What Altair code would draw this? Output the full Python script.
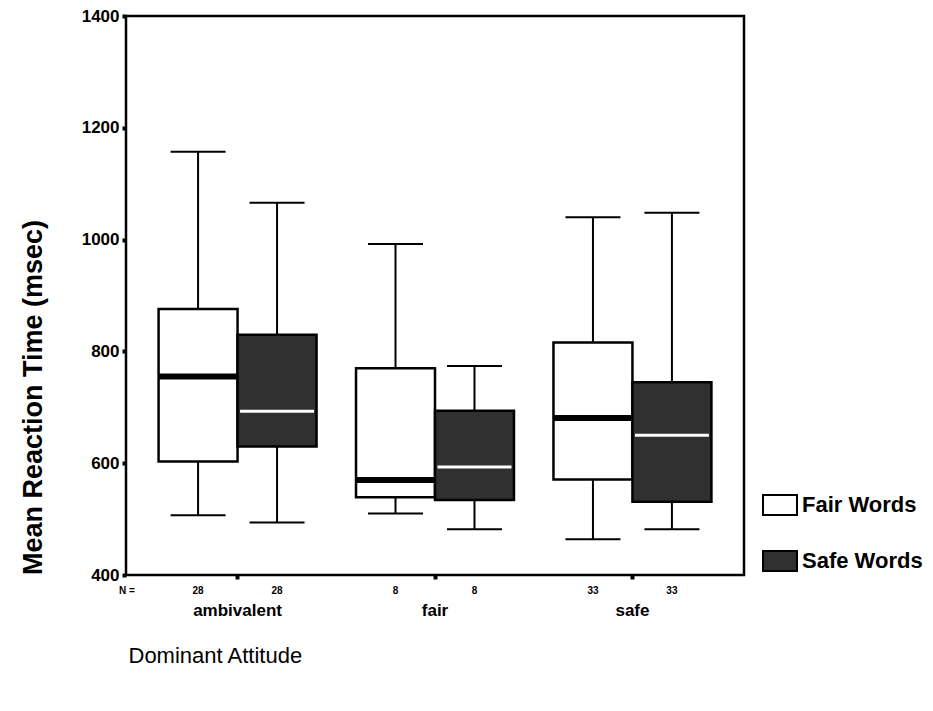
import altair as alt
import pandas as pd

attitudes = ["ambivalent", "ambivalent", "fair", "fair", "safe", "safe"]
words = ["Fair Words", "Safe Words"] * 3
low = [507, 494, 510, 482, 464, 482]
q1 = [603, 630, 539, 534, 571, 531]
median = [755, 693, 570, 593, 681, 650]
q3 = [876, 830, 770, 694, 816, 745]
high = [1157, 1066, 992, 774, 1040, 1048]
n_counts = [28, 28, 8, 8, 33, 33]
y_ticks = [400, 600, 800, 1000, 1200, 1400]

df = pd.DataFrame({
    "attitude": attitudes, "words": words, "low": low, "q1": q1,
    "median": median, "q3": q3, "high": high, "n": n_counts,
})

FONT = "Liberation Sans"
W, H = 618, 559

xenc = alt.X("attitude:N", title="Dominant Attitude",
             scale=alt.Scale(paddingInner=0, paddingOuter=0.065),
             axis=alt.Axis(labelAngle=0, labelFont=FONT, labelFontSize=17,
                           labelFontWeight="bold", labelColor="black",
                           labelPadding=23, tickSize=4, tickWidth=4,
                           tickColor="black", domain=False,
                           titleFont=FONT, titleFontSize=22, titleFontWeight="normal",
                           titleColor="black", titleX=2, titleY=80,
                           titleAlign="left", titleBaseline="middle"))
xoff = alt.XOffset("words:N", scale=alt.Scale(paddingInner=0, paddingOuter=0.25))
yscale = alt.Scale(domain=[400, 1400], nice=False, zero=False)

base = alt.Chart(df)

whisker = base.mark_rule(color="black", strokeWidth=2, opacity=1).encode(
    x=xenc, xOffset=xoff,
    y=alt.Y("low:Q", scale=yscale, title="Mean Reaction Time (msec)",
            axis=alt.Axis(values=y_ticks, format="d", labelFont=FONT, labelFontSize=17,
                          labelFontWeight="bold", labelColor="black",
                          tickSize=4, tickWidth=4, tickColor="black",
                          labelPadding=3, grid=False, domain=False,
                          titleFont=FONT, titleFontSize=27, titleFontWeight="bold",
                          titleColor="black", titleX=-93, titleY=381,
                          titleAlign="center", titleBaseline="middle", titleAngle=-90)),
    y2="high:Q",
)

cap_lo = base.mark_tick(color="black", size=55, thickness=2, opacity=1).encode(
    x="attitude:N", xOffset=xoff, y=alt.Y("low:Q", scale=yscale))
cap_hi = base.mark_tick(color="black", size=55, thickness=2, opacity=1).encode(
    x="attitude:N", xOffset=xoff, y=alt.Y("high:Q", scale=yscale))

box = base.mark_bar(stroke="black", strokeWidth=2.5, opacity=1).encode(
    x="attitude:N", xOffset=xoff,
    y=alt.Y("q1:Q", scale=yscale), y2="q3:Q",
    fill=alt.Fill("words:N",
                  scale=alt.Scale(domain=["Fair Words", "Safe Words"],
                                  range=["white", "#303030"]),
                  legend=alt.Legend(title=None, orient="none", legendX=643, legendY=478,
                                    symbolType="M-1.7,-1H1.7V1H-1.7Z", symbolSize=400,
                                    symbolStrokeColor="black", symbolStrokeWidth=2,
                                    symbolOpacity=1,
                                    labelFont=FONT, labelFontSize=22, labelFontWeight="bold",
                                    labelColor="black",
                                    labelOffset=11, rowPadding=28)),
)

med_fair = base.transform_filter(alt.datum.words == "Fair Words").mark_tick(
    color="black", size=79, thickness=6, opacity=1).encode(
    x="attitude:N", xOffset=xoff, y=alt.Y("median:Q", scale=yscale))
med_safe = base.transform_filter(alt.datum.words == "Safe Words").mark_tick(
    color="white", size=74, thickness=3, opacity=1).encode(
    x="attitude:N", xOffset=xoff, y=alt.Y("median:Q", scale=yscale))

ntext = base.mark_text(font=FONT, fontSize=10, fontWeight="bold", color="black",
                       baseline="middle").encode(
    x="attitude:N", xOffset=xoff, y=alt.value(H + 16), text="n:Q")

nlabel = alt.Chart(pd.DataFrame({"t": ["N ="]})).mark_text(
    font=FONT, fontSize=10, fontWeight="bold", color="black", baseline="middle").encode(
    x=alt.value(1), y=alt.value(H + 16), text="t:N")

chart = alt.layer(whisker, cap_lo, cap_hi, box, med_fair, med_safe, ntext, nlabel).properties(
    width=W, height=H,
    padding={"left": 126, "top": 16, "right": 933 - 744, "bottom": 711 - 575},
    autosize="none",
    background="white",
).configure_view(stroke="black", strokeWidth=2.5)

chart.save("out.html", embed_options={"renderer": "svg", "actions": False})
